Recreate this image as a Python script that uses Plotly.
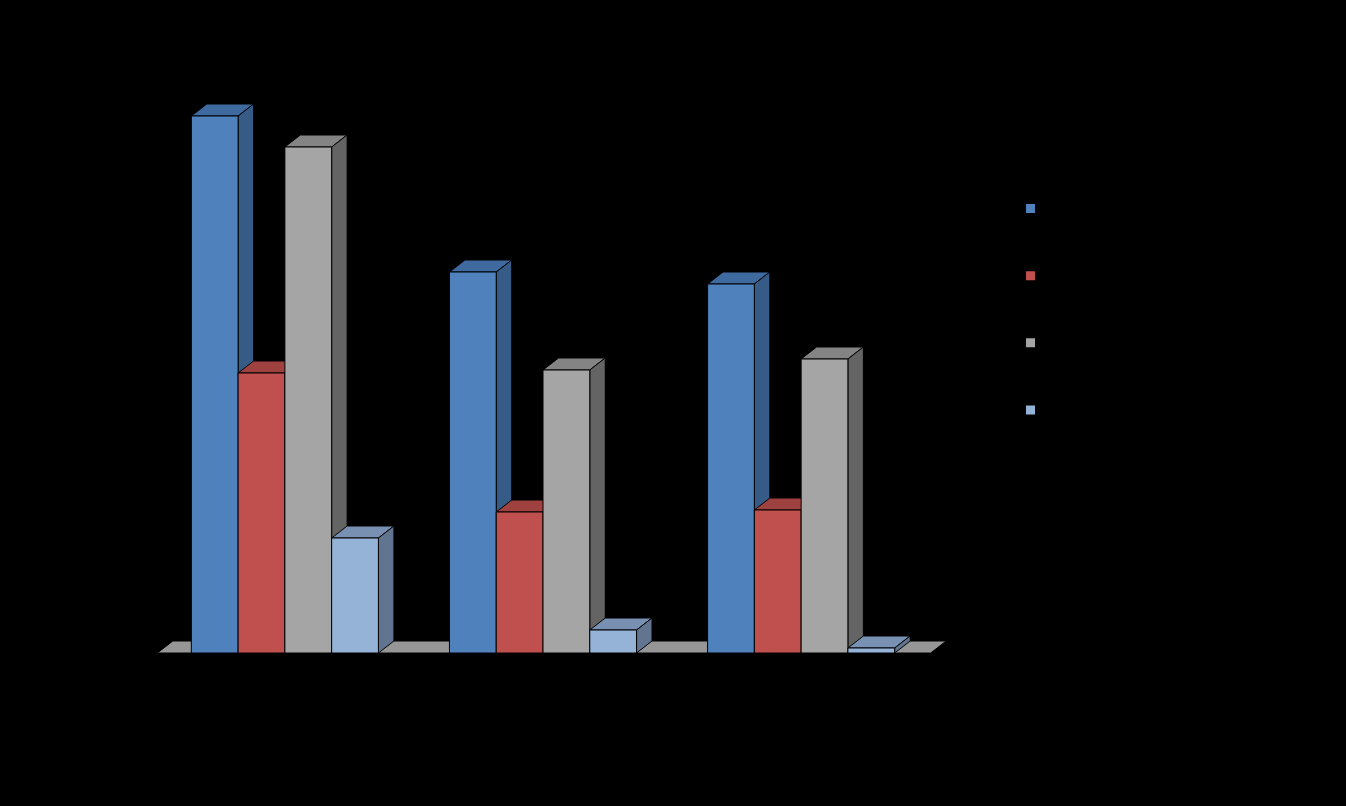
import plotly.graph_objects as go

# ---- data ----
categories = ["Category 1", "Category 2", "Category 3"]
series_names = ["Series 1", "Series 2", "Series 3", "Series 4"]
series1 = [53.7, 38.1, 36.9]
series2 = [28.0, 14.1, 14.3]
series3 = [50.6, 28.3, 29.4]
series4 = [11.5, 2.3, 0.5]
all_series = [series1, series2, series3, series4]

# ---- styles ----
front_colors = ["#4F81BD", "#C0504D", "#A5A5A5", "#95B3D7"]
top_colors = ["#3F6AA0", "#9E413F", "#848484", "#7891B3"]
side_colors = ["#365B87", "#8B3A38", "#646464", "#627590"]
floor_color = "#969696"

bar_w = 0.1812       # bar width in category units
dx = 0.060           # depth offset (x, category units)
dy = 1.2             # depth offset (y, value units)
floor_half = 1.0 - 0.506  # floor extent beyond group center

fig = go.Figure()

def poly_trace(xs, ys, color):
    return go.Scatter(x=xs, y=ys, mode="lines", fill="toself", fillcolor=color,
                      line=dict(color="black", width=1), hoverinfo="skip",
                      showlegend=False)

# floor
n = len(categories)
fx0, fx1 = 0 - floor_half, (n - 1) + floor_half + 0.008
fig.add_trace(poly_trace([fx0, fx1, fx1 + dx, fx0 + dx, fx0],
                         [0, 0, dy, dy, 0], floor_color))

for s, vals in enumerate(all_series):
    for face in ("top", "side", "front"):
        xs, ys = [], []
        for g, v in enumerate(vals):
            x0 = g - 2 * bar_w + s * bar_w
            x1 = x0 + bar_w
            if face == "front":
                px = [x0, x1, x1, x0, x0]
                py = [0, 0, v, v, 0]
            elif face == "top":
                px = [x0, x1, x1 + dx, x0 + dx, x0]
                py = [v, v, v + dy, v + dy, v]
            else:
                px = [x1, x1, x1 + dx, x1 + dx, x1]
                py = [0, v, v + dy, dy, 0]
            xs += px + [None]
            ys += py + [None]
        color = {"front": front_colors, "top": top_colors, "side": side_colors}[face][s]
        fig.add_trace(poly_trace(xs, ys, color))

# legend entries
for s, name in enumerate(series_names):
    fig.add_trace(go.Scatter(x=[None], y=[None], mode="markers", name=name,
                             legendgroup=name,
                             marker=dict(symbol="square", size=9, color=front_colors[s],
                                         line=dict(width=0))))

fig.update_layout(
    width=1346, height=806,
    paper_bgcolor="black", plot_bgcolor="black",
    margin=dict(l=130, r=390, t=60, b=153),
    xaxis=dict(range=[-0.6, 2.6], showgrid=False, zeroline=False, showline=False,
               tickvals=list(range(n)), ticktext=categories,
               tickfont=dict(color="black", size=14, family="Calibri, Liberation Sans")),
    yaxis=dict(range=[0, 59.3], showgrid=False, zeroline=False, showline=False,
               showticklabels=False),
    legend=dict(x=1.066, y=0.776, xanchor="left", yanchor="top",
                bgcolor="rgba(0,0,0,0)", tracegroupgap=46,
                font=dict(color="black", size=14, family="Liberation Sans")),
    showlegend=True,
)

fig.write_html("out.html", config={"displayModeBar": False},
               post_script="document.body.style.margin='0';document.body.style.background='black';")
